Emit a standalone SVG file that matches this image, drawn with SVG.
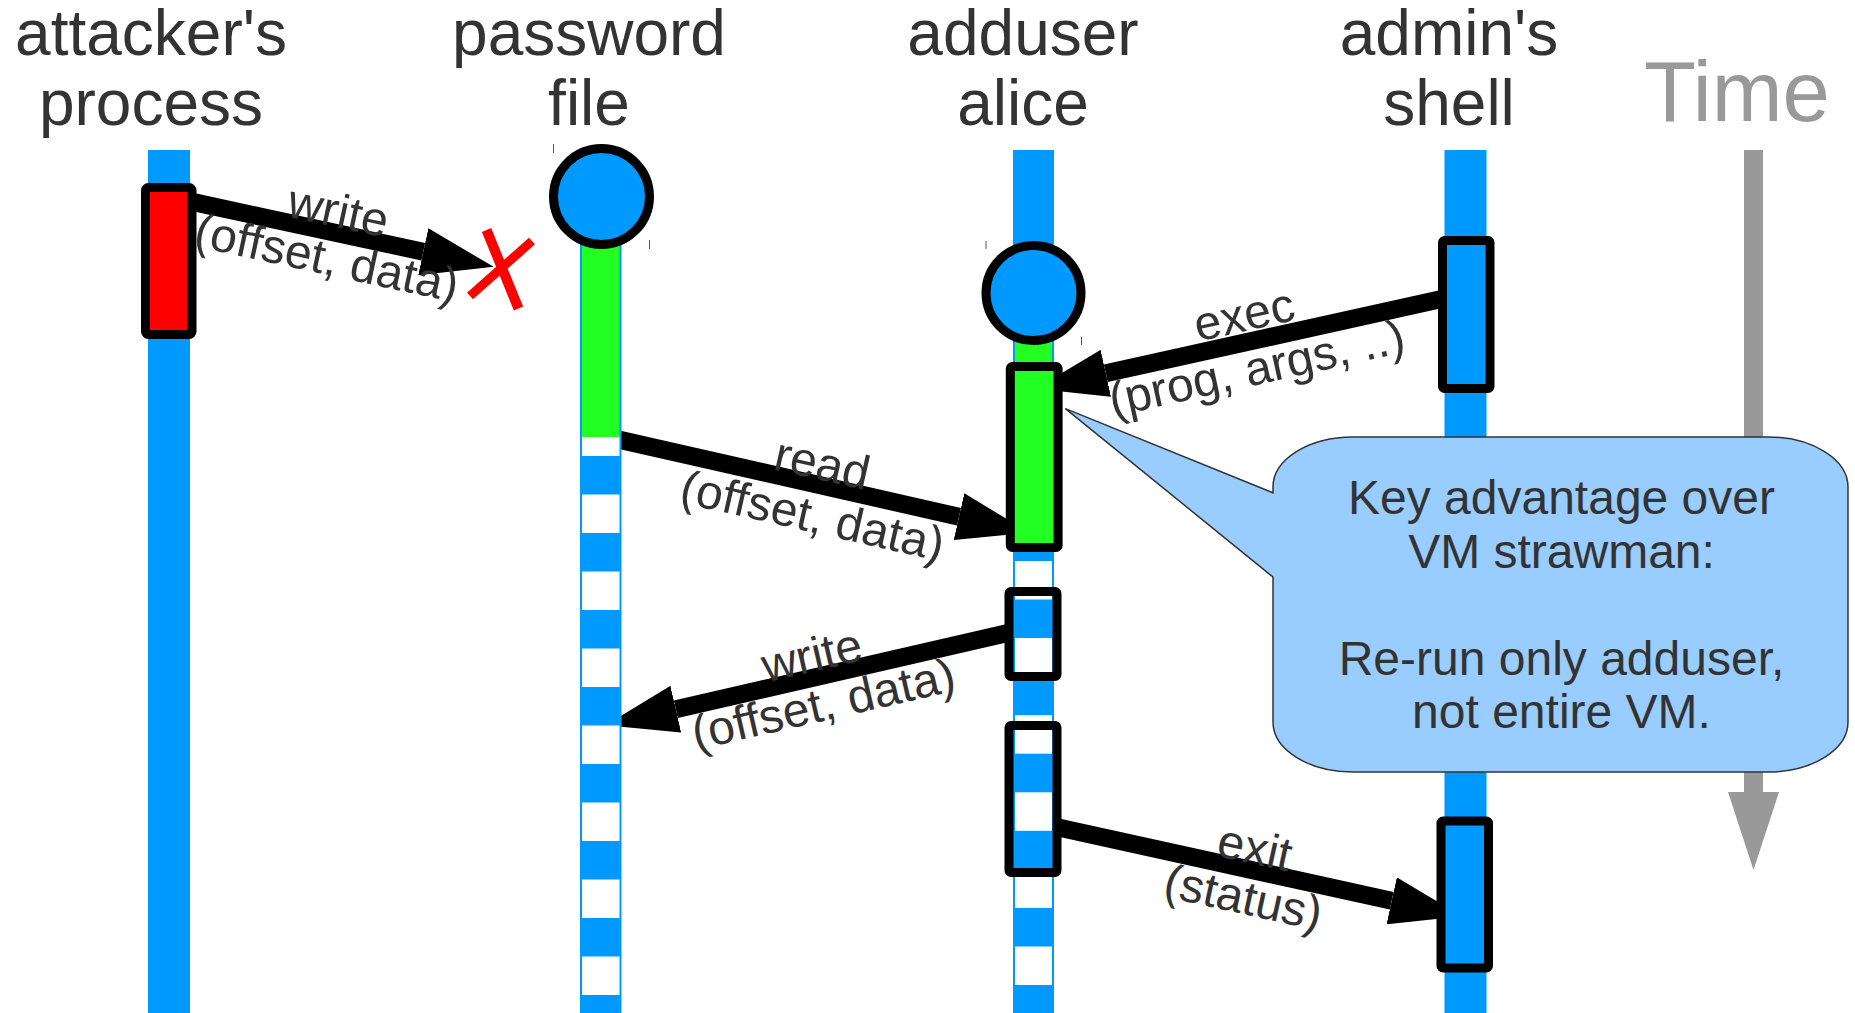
<svg xmlns="http://www.w3.org/2000/svg" width="1855" height="1013" viewBox="0 0 1855 1013">
<defs>
<style>
.hdr{font-family:"Liberation Sans",Arial,sans-serif;font-size:64px;fill:#333;text-anchor:middle}
.lbl{font-family:"Liberation Sans",Arial,sans-serif;font-size:48px;fill:#333;text-anchor:middle}
.bub{font-family:"Liberation Sans",Arial,sans-serif;font-size:48px;fill:#333;text-anchor:middle}
.life{fill:#0099ff}
.stripe{fill:#ffffff}
.green{fill:#22ff22}
.box{stroke:#000;stroke-width:9;stroke-linejoin:round}
.circ{fill:#0099ff;stroke:#000;stroke-width:9}
.arr{fill:none;stroke:#000;stroke-width:18;stroke-linecap:butt}
.tick{stroke:#555;stroke-width:1}
</style>
<marker id="ah" markerUnits="userSpaceOnUse" viewBox="0 0 72 48" markerWidth="72" markerHeight="48" refX="0" refY="24" orient="auto">
<path d="M0,0 L72,24 L0,48 Z" fill="#000"/>
</marker>
</defs>
<rect width="1855" height="1013" fill="#fff"/>

<g id="connectors">
<path class="arr" d="M190,201.4 L423.3,251.7" marker-end="url(#ah)"/>
<path class="arr" d="M600,435.4 L959,516.7" marker-end="url(#ah)"/>
<path class="arr" d="M1010,632.5 L675.8,709.2" marker-end="url(#ah)"/>
<path class="arr" d="M1445,298.2 L1105.8,373.3" marker-end="url(#ah)"/>
<path class="arr" d="M1055,826.7 L1391.7,900.8" marker-end="url(#ah)"/>
</g>

<g id="time-axis">
<text x="1644" y="121" font-family="Liberation Sans, Arial, sans-serif" font-size="85" fill="#999">Time</text>
<rect x="1744" y="150" width="19" height="645" fill="#999"/>
<polygon points="1728,792 1779,792 1753.5,870" fill="#999"/>
</g>

<g id="attacker">
<text class="hdr" x="151" y="55">attacker's</text>
<text class="hdr" x="151" y="125">process</text>
<rect class="life" x="148" y="150" width="42" height="863"/>
<rect class="box" x="145.5" y="187.5" width="46.5" height="147" rx="3" fill="#ff0000"/>
</g>

<g id="blocked-write">
<line x1="486.5" y1="230" x2="518.5" y2="308.5" stroke="#ff0000" stroke-width="10"/>
<line x1="532" y1="241" x2="470" y2="296" stroke="#ff0000" stroke-width="9"/>
</g>

<g id="password-file">
<text class="hdr" x="589" y="55">password</text>
<text class="hdr" x="589" y="125">file</text>
<rect class="life" x="580" y="196" width="41.5" height="817"/>
<rect class="green" x="582" y="240" width="37.5" height="197"/>
<rect class="stripe" x="582" y="437" width="37.5" height="19"/>
<rect class="stripe" x="582" y="494.5" width="37.5" height="38.5"/>
<rect class="stripe" x="582" y="571.5" width="37.5" height="38.5"/>
<rect class="stripe" x="582" y="648.5" width="37.5" height="38.5"/>
<rect class="stripe" x="582" y="725.5" width="37.5" height="38.5"/>
<rect class="stripe" x="582" y="802.5" width="37.5" height="38.5"/>
<rect class="stripe" x="582" y="879.5" width="37.5" height="38.5"/>
<rect class="stripe" x="582" y="956.5" width="37.5" height="38.5"/>
<circle class="circ" cx="601.5" cy="196.5" r="48"/>
<line class="tick" x1="553.5" y1="144" x2="553.5" y2="153"/>
<line class="tick" x1="649.5" y1="240" x2="649.5" y2="249"/>
</g>

<g id="adduser-alice">
<text class="hdr" x="1023" y="55">adduser</text>
<text class="hdr" x="1023" y="125">alice</text>
<rect class="life" x="1013" y="150" width="41" height="863"/>
<rect class="green" x="1015" y="330" width="37" height="40"/>
<rect class="stripe" x="1015" y="561" width="37" height="38.5"/>
<rect class="stripe" x="1015" y="638" width="37" height="38.5"/>
<rect class="stripe" x="1015" y="715.2" width="37" height="38.5"/>
<rect class="stripe" x="1015" y="792.3" width="37" height="38.5"/>
<rect class="stripe" x="1015" y="869.4" width="37" height="38.5"/>
<rect class="stripe" x="1015" y="946.5" width="37" height="38.5"/>
<circle class="circ" cx="1033.5" cy="293" r="47.5"/>
<rect class="box" x="1010.3" y="366.5" width="47.8" height="181" rx="2" fill="#22ff22"/>
<rect class="box" x="1009" y="591.5" width="48" height="85" rx="2" fill="none"/>
<rect class="box" x="1009" y="725.5" width="48" height="147" rx="2" fill="none"/>
<line class="tick" x1="986" y1="241" x2="986" y2="249"/>
<line class="tick" x1="1081.5" y1="337" x2="1081.5" y2="345"/>
</g>

<g id="admin-shell">
<text class="hdr" x="1449" y="55">admin's</text>
<text class="hdr" x="1449" y="125">shell</text>
<rect class="life" x="1444.5" y="150" width="42" height="863"/>
<rect class="box" x="1442.5" y="240.5" width="47.5" height="148" rx="2" fill="#0099ff"/>
<rect class="box" x="1441" y="821" width="47.5" height="147" rx="2" fill="#0099ff"/>
</g>

<g id="callout">
<path d="M1353,437 H1768 A80,50 0 0 1 1848,487 V722 A80,50 0 0 1 1768,772 H1353 A80,50 0 0 1 1273,722 V577 L1065.4,408.6 L1273,492.8 V487 A80,50 0 0 1 1353,437 Z" fill="#99ccff" stroke="#333" stroke-width="1.5"/>
<text class="bub" x="1561.5" y="513.5">Key advantage over</text>
<text class="bub" x="1561.5" y="567.5">VM strawman:</text>
<text class="bub" x="1561.5" y="674.5">Re-run only adduser,</text>
<text class="bub" x="1561.5" y="728">not entire VM.</text>
</g>

<g id="labels">
<text class="lbl" transform="translate(335,227) rotate(12.2)">write</text>
<text class="lbl" transform="translate(323.4,274) rotate(12.2)">(offset, data)</text>
<text class="lbl" transform="translate(818.8,479.5) rotate(12.76)">read</text>
<text class="lbl" transform="translate(809,531.6) rotate(12.76)">(offset, data)</text>
<text class="lbl" transform="translate(815.4,671.2) rotate(-12.93)">write</text>
<text class="lbl" transform="translate(826.9,720) rotate(-12.93)">(offset, data)</text>
<text class="lbl" transform="translate(1247.6,330.6) rotate(-12.48)">exec</text>
<text class="lbl" transform="translate(1260.1,384.2) rotate(-12.48)">(prog, args, ..)</text>
<text class="lbl" transform="translate(1251.4,863.7) rotate(12.41)">exit</text>
<text class="lbl" transform="translate(1239.9,913.3) rotate(12.41)">(status)</text>
</g>
</svg>
